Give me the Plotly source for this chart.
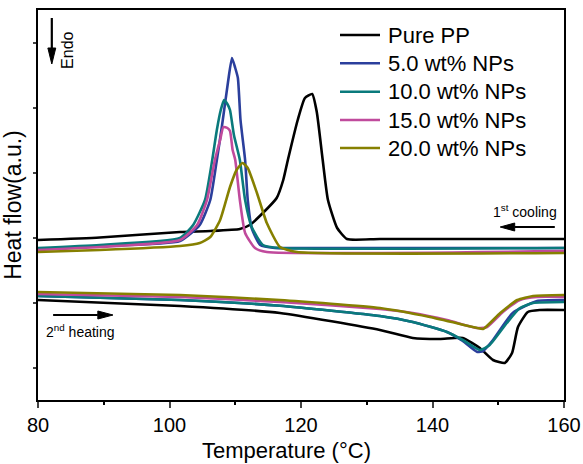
import plotly.graph_objects as go

# ---------------- data ----------------
# 1st cooling curves (temperature in °C, heat flow in arbitrary units)
cool_pp_T = [80.0, 89.4, 101.6, 106.2, 110.7, 112.2, 114.2, 116.3, 117.3, 118.0, 119.5, 120.6, 121.7, 122.4, 123.3, 124.1, 125.5, 127.0, 132.0, 160.0]
cool_pp_H = [160, 162.5, 168, 169, 171, 175, 187, 202, 220, 240, 280, 302, 306, 288, 240, 200, 172, 161, 161, 161]

cool_5_T = [80.0, 89.4, 101.6, 104.6, 106.2, 107.2, 108.0, 108.9, 109.5, 110.0, 110.4, 110.8, 111.5, 111.9, 112.5, 113.8, 116.0, 120.6, 160.0]
cool_5_H = [151, 154, 159, 175, 200, 240, 275, 318, 342, 332, 322, 280, 240, 200, 172, 155, 152, 152, 152]

cool_10_T = [80.0, 89.4, 101.6, 103.6, 105.4, 106.5, 107.2, 107.8, 108.3, 108.8, 109.2, 109.8, 110.7, 111.5, 112.5, 114.2, 116.8, 160.0]
cool_10_H = [152, 155, 162, 175, 200, 240, 270, 290, 300, 296, 290, 265, 240, 200, 173, 155, 152, 152]

cool_15_T = [80.0, 89.4, 101.6, 104.2, 105.7, 106.9, 107.7, 108.2, 108.8, 109.2, 109.6, 110.0, 110.7, 111.5, 113.0, 114.8, 160.0]
cool_15_H = [150, 153, 160, 175, 200, 240, 260, 273, 272, 269, 250, 240, 200, 167, 152, 148, 149]

cool_20_T = [80.0, 89.4, 101.6, 104.6, 106.2, 107.7, 109.2, 110.2, 111.1, 111.9, 113.3, 114.8, 116.8, 119.4, 160.0]
cool_20_H = [148, 150, 154, 157, 163, 180, 213, 230, 237, 232, 207, 177, 153, 148, 147]

# 2nd heating curves
heat_pp_T = [80.0, 101.6, 116.8, 132.0, 137.0, 141.1, 144.6, 147.2, 149.2, 151.0, 152.1, 153.0, 154.5, 156.3, 160.0]
heat_pp_H = [100, 94, 87, 70, 62, 61, 62, 52, 40, 37, 47, 73, 88, 90, 90]

heat_5_T = [80.0, 101.6, 116.8, 132.0, 137.0, 142.2, 144.6, 146.8, 147.7, 149.2, 152.2, 155.9, 160.0]
heat_5_H = [104, 100, 94.3, 84, 78, 68, 59, 48, 49, 60, 87, 99, 100]

heat_10_T = [80.0, 101.6, 116.8, 132.0, 137.0, 142.2, 144.6, 147.2, 148.7, 151.3, 153.3, 155.3, 160.0]
heat_10_H = [104, 100, 94.3, 84, 78, 68, 60, 50, 55, 77, 92, 97, 98]

heat_15_T = [80.0, 101.6, 116.8, 132.0, 137.0, 142.2, 146.8, 148.3, 150.7, 153.3, 155.9, 160.0]
heat_15_H = [106, 103, 98, 91, 87, 80, 72, 73, 88, 100, 103, 103]

heat_20_T = [80.0, 101.6, 116.8, 132.0, 139.6, 146.8, 147.7, 150.3, 152.9, 155.3, 160.0]
heat_20_H = [108, 105, 100, 92, 83, 72, 71, 87, 100, 104, 105]

series_names = ["Pure PP", "5.0 wt% NPs", "10.0 wt% NPs", "15.0 wt% NPs", "20.0 wt% NPs"]
series_colors = ["#000000", "#2b3f9c", "#0a7a7c", "#c04a9c", "#868000"]

x_ticks = [80, 100, 120, 140, 160]
x_minor = [90, 110, 130, 150]
y_ticks = [32, 97, 162, 227, 292, 357]

cool = [(cool_pp_T, cool_pp_H), (cool_5_T, cool_5_H), (cool_10_T, cool_10_H), (cool_15_T, cool_15_H), (cool_20_T, cool_20_H)]
heat = [(heat_pp_T, heat_pp_H), (heat_5_T, heat_5_H), (heat_10_T, heat_10_H), (heat_15_T, heat_15_H), (heat_20_T, heat_20_H)]

FONT = "Liberation Sans, Arial, Helvetica, sans-serif"
LW = 2.6

fig = go.Figure()
for i, name in enumerate(series_names):
    c = series_colors[i]
    fig.add_trace(go.Scatter(x=cool[i][0], y=cool[i][1], mode="lines", name=name,
                             line=dict(color=c, width=LW, shape="spline", smoothing=0.5),
                             legendgroup=name, showlegend=False))
    fig.add_trace(go.Scatter(x=heat[i][0], y=heat[i][1], mode="lines", name=name,
                             line=dict(color=c, width=LW, shape="spline", smoothing=0.5),
                             legendgroup=name, showlegend=False))

shapes = []
ann = []

# ---- manual legend (line sample + label), placed in paper coords ----
leg_x0, leg_x1, leg_tx = (340 - 38) / 526, (380 - 38) / 526, (386 - 38) / 526
leg_rows = [35, 63.3, 91.7, 120, 148]
for i, name in enumerate(series_names):
    yp = 1 - (leg_rows[i] - 10) / 390
    shapes.append(dict(type="line", xref="paper", yref="paper", x0=leg_x0, x1=leg_x1, y0=yp, y1=yp,
                       line=dict(color=series_colors[i], width=LW)))
    ann.append(dict(x=leg_tx, y=yp, xref="paper", yref="paper", xanchor="left", yanchor="middle",
                    text=name, showarrow=False, font=dict(family=FONT, size=22, color="black")))

# ---- arrows drawn as shapes ----
def arrow_h(x_tail, x_tip, x_base, y, half):
    shapes.append(dict(type="line", xref="x", yref="y", x0=x_tail, x1=x_base, y0=y, y1=y,
                       line=dict(color="black", width=2.2)))
    shapes.append(dict(type="path", xref="x", yref="y",
                       path=f"M {x_base} {y - half} L {x_tip} {y} L {x_base} {y + half} Z",
                       fillcolor="black", line=dict(color="black", width=1)))

# 2nd heating (points right)
arrow_h(82.3, 91.4, 89.1, 85, 4)
# 1st cooling (points left)
arrow_h(158.6, 150.3, 152.5, 173, 4)
# Endo (points down)
shapes.append(dict(type="line", xref="x", yref="y", x0=82.1, x1=82.1, y0=382, y1=350,
                   line=dict(color="black", width=2.2)))
shapes.append(dict(type="path", xref="x", yref="y",
                   path="M 81.5 352 L 82.1 336 L 82.7 352 Z",
                   fillcolor="black", line=dict(color="black", width=1)))

ann.append(dict(x=84.4, y=350, xref="x", yref="y", text="Endo", showarrow=False, textangle=-90,
                font=dict(family=FONT, size=16, color="black")))
ann.append(dict(x=159.2, y=189, xref="x", yref="y", xanchor="right", text="1<sup>st</sup> cooling",
                showarrow=False, font=dict(family=FONT, size=14, color="black")))
ann.append(dict(x=80.9, y=69, xref="x", yref="y", xanchor="left", text="2<sup>nd</sup> heating",
                showarrow=False, font=dict(family=FONT, size=14, color="black")))
# x-axis title (slightly left of centre, as in the reference), sitting on the bottom edge
ann.append(dict(x=(286 - 38) / 526, y=-64 / 390, xref="paper", yref="paper", xanchor="center",
                yanchor="bottom", borderpad=0, text="Temperature (°C)", showarrow=False,
                font=dict(family=FONT, size=22, color="black")))

fig.update_layout(
    width=583, height=464,
    margin=dict(l=38, r=19, t=10, b=64, autoexpand=False),
    paper_bgcolor="white", plot_bgcolor="white",
    font=dict(family=FONT, size=19, color="black"),
    showlegend=False,
    annotations=ann,
    shapes=shapes,
)
fig.update_xaxes(range=[80, 160], tickvals=x_ticks, ticks="outside", ticklen=6, tickwidth=2,
                 showline=True, linewidth=2, linecolor="black", mirror=True, showgrid=False,
                 zeroline=False, tickfont=dict(family=FONT, size=20), automargin=False,
                 minor=dict(tickvals=x_minor, ticks="outside", ticklen=3, tickwidth=2, tickcolor="black"))
fig.update_yaxes(range=[0, 390], tickvals=y_ticks, ticks="outside", ticklen=3, tickwidth=2,
                 showticklabels=False, showline=True, linewidth=2, linecolor="black", mirror=True,
                 showgrid=False, zeroline=False, automargin=False,
                 title=dict(text="Heat flow(a.u.)", font=dict(family=FONT, size=23), standoff=6))

# remove the browser's default 8px body margin so the 583x464 figure fills the window exactly
fig.write_html("out.html", config={"displayModeBar": False},
               post_script="document.body.style.margin='0';document.body.style.overflow='hidden';")
